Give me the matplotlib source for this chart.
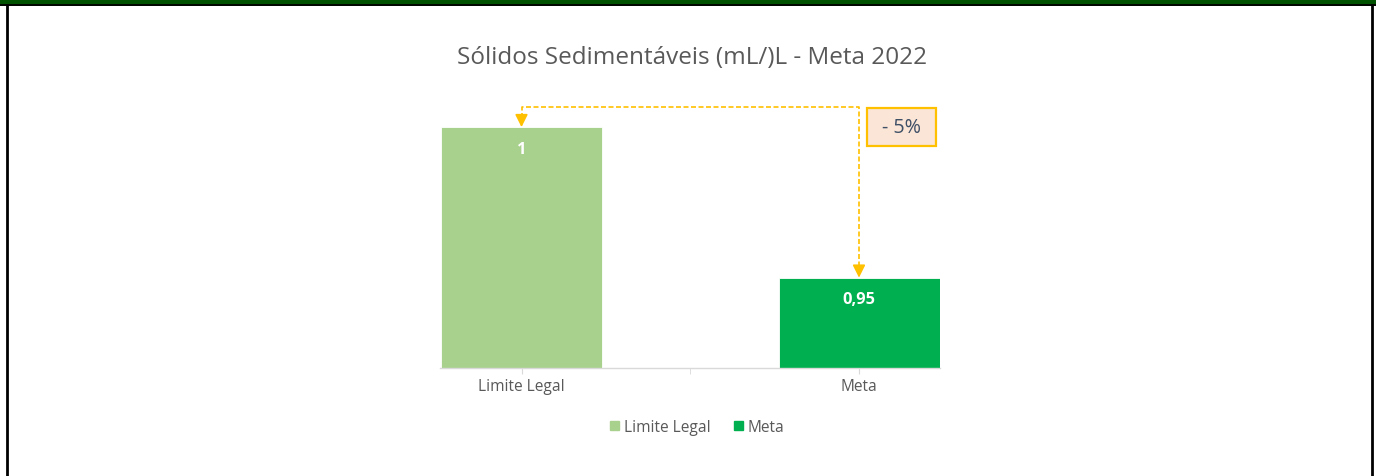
import matplotlib.pyplot as plt
from matplotlib.patches import Rectangle
from matplotlib.lines import Line2D

plt.rcParams['font.family'] = ['Open Sans', 'DejaVu Sans']

# dados
categorias = ['Limite Legal', 'Meta']
valores = [1.0, 0.95]
rotulos = ['1', '0,95']
cores = ['#A9D18E', '#00B050']
titulo = 'Sólidos Sedimentáveis (mL/)L - Meta 2022'
reducao = '- 5%'

W, H = 1376, 477
fig = plt.figure(figsize=(W / 100, H / 100), dpi=100)
ax = fig.add_axes([440 / W, 108 / H, 500 / W, 271 / H])

# posicoes das barras (estilo Excel, series sobrepostas)
desloc = [-0.174, 0.176]
largura = 0.644
xs = [i + d for i, d in enumerate(desloc)]

ax.bar(xs, valores, width=largura, color=cores, edgecolor='white', linewidth=0.6, zorder=2)
ax.set_xlim(-0.5, 1.5)
ax.set_ylim(0.92, 1.01)

for x, v, r in zip(xs, valores, rotulos):
    ax.text(x, v - 0.0072, r, ha='center', va='center', color='white',
            fontsize=11.8, fontweight='bold')

# eixos
for s in ['top', 'right', 'left']:
    ax.spines[s].set_visible(False)
ax.spines['bottom'].set_color('#D9D9D9')
ax.spines['bottom'].set_linewidth(1)
ax.set_yticks([])
ax.set_xticks(xs)
ax.set_xticklabels(categorias, color='#595959', fontsize=11.2)
ax.set_xticks([0.5], minor=True)
ax.tick_params(axis='x', which='both', length=4, color='#D9D9D9', pad=3)

fig.text(692 / W, 1 - 58 / H, titulo, ha='center', va='center', color='#595959', fontsize=17.5)

# seta tracejada entre as barras
laranja = '#FFC000'
topo = max(valores) + 0.0068
ax.plot([xs[0], xs[0], xs[1], xs[1]], [valores[0] + 0.003, topo, topo, valores[1] + 0.003],
        color=laranja, lw=1.2, ls=(0, (3, 1.5)), clip_on=False, zorder=3)
for x, v in zip(xs, valores):
    ax.annotate('', xy=(x, v), xytext=(x, v + 0.0038),
                arrowprops=dict(arrowstyle='-|>', color=laranja, lw=1.2,
                                mutation_scale=19, shrinkA=0, shrinkB=0),
                annotation_clip=False, zorder=4)

# caixa com a reducao
fig.patches.append(Rectangle((867 / W, 1 - 147 / H), 69 / W, 38 / H, transform=fig.transFigure,
                             facecolor='#FBE5D6', edgecolor=laranja, linewidth=1.6))
fig.text(901 / W, 1 - 128 / H, reducao, ha='center', va='center', color='#3E4F66', fontsize=14.2)

# legenda
alcas = [Rectangle((0, 0), 1, 1, color=c) for c in cores]
fig.legend(alcas, categorias, loc='center', bbox_to_anchor=(697 / W, 1 - 428 / H),
           ncol=2, frameon=False, handlelength=0.6, handleheight=0.6, handletextpad=0.3,
           columnspacing=1.5, fontsize=11.2, labelcolor='#595959')

# moldura da planilha
fig.patches.append(Rectangle((0, 1 - 7 / H), 1, 7 / H, transform=fig.transFigure,
                             facecolor='#005200', edgecolor='none'))
fig.lines.append(Line2D([0, 1], [1 - 6.4 / H, 1 - 6.4 / H], transform=fig.transFigure,
                        color='black', lw=1.3))
fig.lines.append(Line2D([7 / W, 7 / W], [0, 1 - 6 / H], transform=fig.transFigure,
                        color='black', lw=2))
fig.lines.append(Line2D([1372 / W, 1372 / W], [0, 1 - 6 / H], transform=fig.transFigure,
                        color='black', lw=2))

fig.savefig('out.png', dpi=100, facecolor='white')
